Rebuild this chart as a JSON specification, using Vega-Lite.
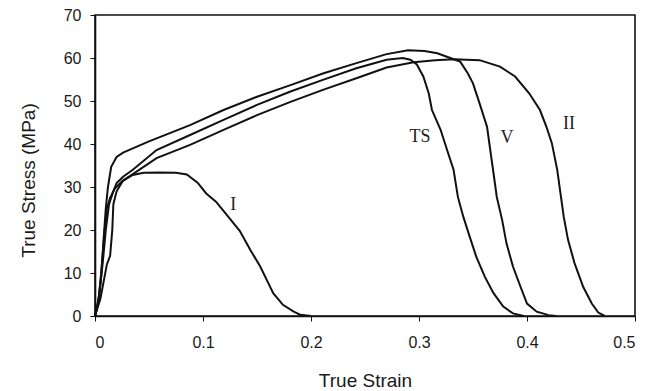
{
  "$schema": "https://vega.github.io/schema/vega-lite/v6.json",
  "autosize": {"type": "none"},
  "width": 540,
  "height": 301,
  "padding": {"left": 95, "top": 15, "right": 28, "bottom": 75},
  "background": "white",
  "config": {
    "view": {"stroke": "#111", "strokeWidth": 1.6},
    "axis": {"grid": false, "domainColor": "#111", "domainWidth": 1.6, "tickColor": "#111", "tickSize": 5, "labelFont": "Liberation Sans", "titleFont": "Liberation Sans", "labelFontSize": 16, "titleFontSize": 19, "labelColor": "#1a1a1a", "titleColor": "#1a1a1a", "titleFontWeight": "normal"}
  },
  "datasets": {
    "curves": [
      {"curve": "I", "x": 0, "y": 0}, {"curve": "I", "x": 0.003, "y": 3}, {"curve": "I", "x": 0.005, "y": 8}, {"curve": "I", "x": 0.007, "y": 14}, {"curve": "I", "x": 0.009, "y": 20}, {"curve": "I", "x": 0.011, "y": 25}, {"curve": "I", "x": 0.014, "y": 27.5}, {"curve": "I", "x": 0.018, "y": 29.5}, {"curve": "I", "x": 0.025, "y": 31.3}, {"curve": "I", "x": 0.035, "y": 32.8}, {"curve": "I", "x": 0.045, "y": 33.3}, {"curve": "I", "x": 0.06, "y": 33.4}, {"curve": "I", "x": 0.075, "y": 33.3}, {"curve": "I", "x": 0.085, "y": 32.9}, {"curve": "I", "x": 0.095, "y": 31}, {"curve": "I", "x": 0.103, "y": 28.5}, {"curve": "I", "x": 0.112, "y": 26.6}, {"curve": "I", "x": 0.122, "y": 23.5}, {"curve": "I", "x": 0.134, "y": 19.8}, {"curve": "I", "x": 0.144, "y": 15.3}, {"curve": "I", "x": 0.153, "y": 11.5}, {"curve": "I", "x": 0.159, "y": 8.4}, {"curve": "I", "x": 0.165, "y": 5.3}, {"curve": "I", "x": 0.174, "y": 2.6}, {"curve": "I", "x": 0.184, "y": 1.0}, {"curve": "I", "x": 0.19, "y": 0.3}, {"curve": "I", "x": 0.2, "y": 0},
      {"curve": "V", "x": 0, "y": 0}, {"curve": "V", "x": 0.003, "y": 3}, {"curve": "V", "x": 0.006, "y": 10}, {"curve": "V", "x": 0.008, "y": 18}, {"curve": "V", "x": 0.010, "y": 25}, {"curve": "V", "x": 0.012, "y": 30}, {"curve": "V", "x": 0.015, "y": 34.7}, {"curve": "V", "x": 0.020, "y": 37}, {"curve": "V", "x": 0.026, "y": 38}, {"curve": "V", "x": 0.035, "y": 39}, {"curve": "V", "x": 0.05, "y": 40.6}, {"curve": "V", "x": 0.057, "y": 41.3}, {"curve": "V", "x": 0.088, "y": 44.4}, {"curve": "V", "x": 0.119, "y": 47.9}, {"curve": "V", "x": 0.150, "y": 51.0}, {"curve": "V", "x": 0.181, "y": 53.7}, {"curve": "V", "x": 0.211, "y": 56.4}, {"curve": "V", "x": 0.242, "y": 58.8}, {"curve": "V", "x": 0.270, "y": 60.9}, {"curve": "V", "x": 0.29, "y": 61.8}, {"curve": "V", "x": 0.305, "y": 61.6}, {"curve": "V", "x": 0.317, "y": 61.1}, {"curve": "V", "x": 0.329, "y": 60}, {"curve": "V", "x": 0.338, "y": 59.2}, {"curve": "V", "x": 0.345, "y": 56.5}, {"curve": "V", "x": 0.350, "y": 54.1}, {"curve": "V", "x": 0.356, "y": 49.5}, {"curve": "V", "x": 0.363, "y": 44.0}, {"curve": "V", "x": 0.366, "y": 38.6}, {"curve": "V", "x": 0.369, "y": 33.2}, {"curve": "V", "x": 0.372, "y": 27.7}, {"curve": "V", "x": 0.377, "y": 22.3}, {"curve": "V", "x": 0.381, "y": 16.9}, {"curve": "V", "x": 0.387, "y": 11.5}, {"curve": "V", "x": 0.394, "y": 6.8}, {"curve": "V", "x": 0.400, "y": 2.9}, {"curve": "V", "x": 0.409, "y": 1.0}, {"curve": "V", "x": 0.42, "y": 0.2}, {"curve": "V", "x": 0.427, "y": 0},
      {"curve": "TS", "x": 0, "y": 0}, {"curve": "TS", "x": 0.004, "y": 5}, {"curve": "TS", "x": 0.007, "y": 12}, {"curve": "TS", "x": 0.010, "y": 20}, {"curve": "TS", "x": 0.013, "y": 26}, {"curve": "TS", "x": 0.017, "y": 29}, {"curve": "TS", "x": 0.020, "y": 30.9}, {"curve": "TS", "x": 0.026, "y": 32.4}, {"curve": "TS", "x": 0.035, "y": 34}, {"curve": "TS", "x": 0.057, "y": 38.6}, {"curve": "TS", "x": 0.088, "y": 42.1}, {"curve": "TS", "x": 0.119, "y": 45.6}, {"curve": "TS", "x": 0.150, "y": 49.1}, {"curve": "TS", "x": 0.181, "y": 52.2}, {"curve": "TS", "x": 0.211, "y": 54.9}, {"curve": "TS", "x": 0.242, "y": 57.6}, {"curve": "TS", "x": 0.270, "y": 59.6}, {"curve": "TS", "x": 0.285, "y": 60.0}, {"curve": "TS", "x": 0.292, "y": 59.6}, {"curve": "TS", "x": 0.298, "y": 58.5}, {"curve": "TS", "x": 0.304, "y": 55.7}, {"curve": "TS", "x": 0.309, "y": 51.8}, {"curve": "TS", "x": 0.312, "y": 47.9}, {"curve": "TS", "x": 0.320, "y": 43.3}, {"curve": "TS", "x": 0.326, "y": 38.6}, {"curve": "TS", "x": 0.332, "y": 34.0}, {"curve": "TS", "x": 0.336, "y": 27.7}, {"curve": "TS", "x": 0.341, "y": 23.1}, {"curve": "TS", "x": 0.347, "y": 18.4}, {"curve": "TS", "x": 0.353, "y": 13.8}, {"curve": "TS", "x": 0.361, "y": 9.1}, {"curve": "TS", "x": 0.369, "y": 5.3}, {"curve": "TS", "x": 0.378, "y": 2.2}, {"curve": "TS", "x": 0.387, "y": 0.6}, {"curve": "TS", "x": 0.397, "y": 0},
      {"curve": "II", "x": 0, "y": 0}, {"curve": "II", "x": 0.005, "y": 4}, {"curve": "II", "x": 0.008, "y": 8}, {"curve": "II", "x": 0.011, "y": 12}, {"curve": "II", "x": 0.014, "y": 14}, {"curve": "II", "x": 0.016, "y": 20}, {"curve": "II", "x": 0.017, "y": 26}, {"curve": "II", "x": 0.020, "y": 29}, {"curve": "II", "x": 0.026, "y": 31.5}, {"curve": "II", "x": 0.035, "y": 33}, {"curve": "II", "x": 0.057, "y": 36.7}, {"curve": "II", "x": 0.088, "y": 39.8}, {"curve": "II", "x": 0.119, "y": 43.3}, {"curve": "II", "x": 0.150, "y": 46.7}, {"curve": "II", "x": 0.181, "y": 49.8}, {"curve": "II", "x": 0.211, "y": 52.6}, {"curve": "II", "x": 0.242, "y": 55.3}, {"curve": "II", "x": 0.270, "y": 57.8}, {"curve": "II", "x": 0.295, "y": 59.0}, {"curve": "II", "x": 0.315, "y": 59.5}, {"curve": "II", "x": 0.332, "y": 59.7}, {"curve": "II", "x": 0.356, "y": 59.5}, {"curve": "II", "x": 0.375, "y": 58.0}, {"curve": "II", "x": 0.389, "y": 55.7}, {"curve": "II", "x": 0.402, "y": 51.8}, {"curve": "II", "x": 0.412, "y": 47.9}, {"curve": "II", "x": 0.418, "y": 44.0}, {"curve": "II", "x": 0.423, "y": 40.2}, {"curve": "II", "x": 0.428, "y": 34.0}, {"curve": "II", "x": 0.431, "y": 28.5}, {"curve": "II", "x": 0.434, "y": 23.1}, {"curve": "II", "x": 0.438, "y": 17.7}, {"curve": "II", "x": 0.444, "y": 12.3}, {"curve": "II", "x": 0.452, "y": 6.8}, {"curve": "II", "x": 0.460, "y": 2.9}, {"curve": "II", "x": 0.466, "y": 0.8}, {"curve": "II", "x": 0.472, "y": 0}
    ],
    "labels": [
      {"label": "I", "x": 0.128, "y": 25.8},
      {"label": "TS", "x": 0.301, "y": 41.6},
      {"label": "V", "x": 0.3815, "y": 41.4},
      {"label": "II", "x": 0.439, "y": 44.6}
    ]
  },
  "layer": [
    {
      "data": {"name": "curves"},
      "mark": {"type": "line", "color": "#111", "strokeWidth": 2, "interpolate": "linear"},
      "encoding": {
        "x": {"field": "x", "type": "quantitative", "scale": {"domain": [0, 0.5], "nice": false}, "axis": {"title": "True Strain", "values": [0, 0.1, 0.2, 0.3, 0.4, 0.5], "format": ".1~f", "labelPadding": 13, "titlePadding": 21}},
        "y": {"field": "y", "type": "quantitative", "scale": {"domain": [0, 70], "nice": false}, "axis": {"title": "True Stress (MPa)", "values": [0, 10, 20, 30, 40, 50, 60, 70], "labelPadding": 9, "titlePadding": 25, "titleY": 165}},
        "detail": {"field": "curve", "type": "nominal"}
      }
    },
    {
      "data": {"name": "labels"},
      "mark": {"type": "text", "font": "Liberation Serif", "fontSize": 18, "color": "#222", "align": "center", "baseline": "middle"},
      "encoding": {
        "x": {"field": "x", "type": "quantitative"},
        "y": {"field": "y", "type": "quantitative"},
        "text": {"field": "label", "type": "nominal"}
      }
    }
  ]
}
